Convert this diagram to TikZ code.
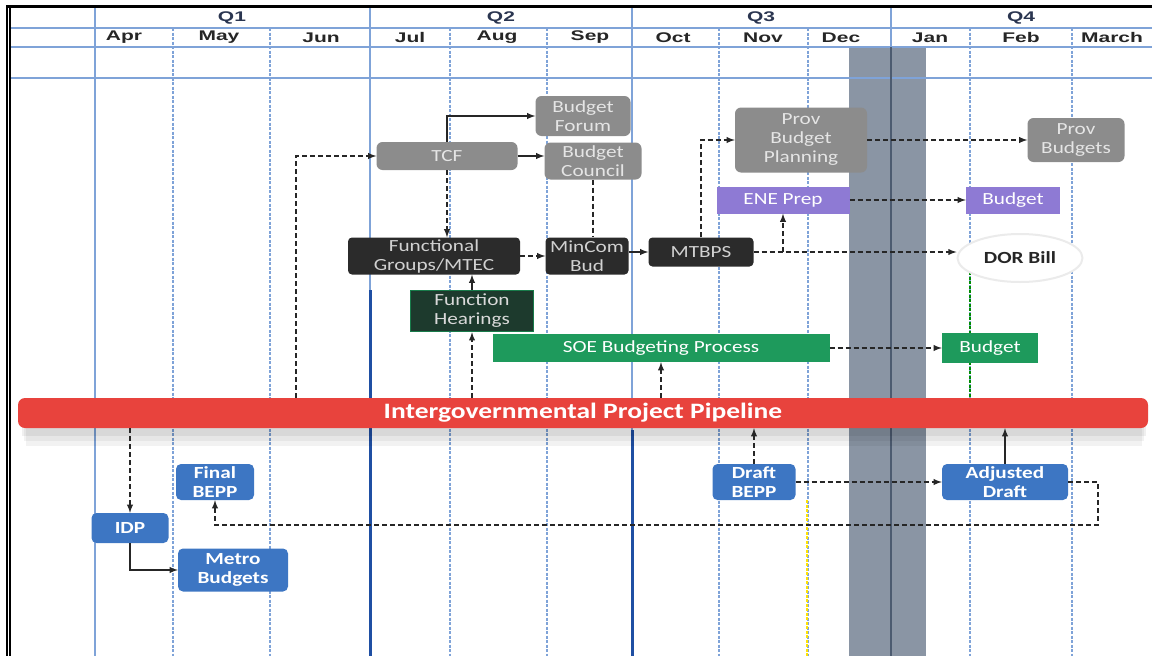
\documentclass[tikz,border=0pt]{standalone}
\usepackage{fontspec}
\setmainfont{Carlito}
\newfontfamily\boxfont[FakeStretch=1.25]{Carlito}
\newfontfamily\hdrfont[FakeStretch=1.5]{Liberation Sans}
\usetikzlibrary{shapes.geometric}

\definecolor{gridblue}{HTML}{7FA3D8}
\definecolor{darkblue}{HTML}{1F4FA3}
\definecolor{bandgray}{HTML}{8A95A4}
\definecolor{bandline}{HTML}{4C5B70}
\definecolor{boxgray}{HTML}{8C8C8C}
\definecolor{boxblack}{HTML}{2B2B2B}
\definecolor{hearfill}{HTML}{1D3A2D}
\definecolor{soegreen}{HTML}{1E9A5C}
\definecolor{eneviolet}{HTML}{8E7AD4}
\definecolor{bepblue}{HTML}{3D76C3}
\definecolor{pipered}{HTML}{E8433D}
\definecolor{hdrtext}{HTML}{2A3550}

\begin{document}
\begin{tikzpicture}[x=1pt,y=-1pt,
    box/.style={inner sep=0pt,align=center,font=\boxfont\fontsize{17}{19}\selectfont},
    grybox/.style={box,fill=boxgray,text=white!90!black,rounded corners=6pt},
    blkbox/.style={box,fill=boxblack,text=white!82!black,rounded corners=4pt},
    grnbox/.style={box,fill=soegreen,text=white},
    vltbox/.style={box,fill=eneviolet,text=white},
    bepbox/.style={box,fill=bepblue,text=white,rounded corners=5pt,font=\boxfont\bfseries\fontsize{17}{19}\selectfont},
    month/.style={text=black!85,font=\hdrfont\bfseries\fontsize{14}{16}\selectfont},
    quarter/.style={text=hdrtext,font=\hdrfont\bfseries\fontsize{14}{16}\selectfont},
    grid/.style={gridblue,line width=1.6pt},
    mgrid/.style={gridblue,line width=1.4pt,dash pattern=on 3pt off 1.5pt},
    flow/.style={line width=1.8pt,black!85,-latex},
    dflow/.style={flow,dash pattern=on 5pt off 3pt}]
        \useasboundingbox (0,0) rectangle (1152,656);
        % vacation band
        \fill [bandgray] (849,47) rectangle (926,656);

        % header lines
        \draw [grid] (10,28) -- (1152,28);
        \draw [grid] (10,47) -- (1152,47);
        \draw [grid] (10,78) -- (1152,78);
        % quarter lines
        \draw [grid] (95,8) -- (95,656);
        \draw [grid] (370,8) -- (370,656);
        \draw [grid] (632,8) -- (632,656);
        \draw [grid] (891,8) -- (891,47);
        \draw [bandline,line width=2pt] (891,47) -- (891,656);
        \draw [darkblue,line width=3pt] (370,290) -- (370,656);
        \draw [darkblue,line width=3pt] (632,430) -- (632,656);
        % month lines
        \draw [mgrid] (173,28) -- (173,656);
        \draw [mgrid] (270,28) -- (270,656);
        \draw [mgrid] (450,28) -- (450,656);
        \draw [mgrid] (547,28) -- (547,656);
        \draw [mgrid] (719,28) -- (719,656);
        \draw [mgrid] (808,28) -- (808,656);
        \draw [mgrid] (970,28) -- (970,656);
        \draw [mgrid] (1072,28) -- (1072,656);
        \draw [mgrid,yellow!85!orange,line width=2pt] (807,500) -- (807,656);
        \draw [mgrid,green!55!black] (970,272) -- (970,398);

        % frame
        \draw [black,line width=3pt] (7,6) -- (1152,6);
        \draw [black,line width=1.2pt] (7,5) -- (7,656);
        \draw [black,line width=1.2pt] (10,8) -- (10,656);

        % quarters and months
        \node [quarter] (q1) at (232,18) {Q1};
        \node [quarter] (q2) at (501,18) {Q2};
        \node [quarter] (q3) at (761,18) {Q3};
        \node [quarter] (q4) at (1021,18) {Q4};
        \node [month] (apr) at (124,37.5) {Apr};
        \node [month] (may) at (219,37.5) {May};
        \node [month] (jun) at (321,37.5) {Jun};
        \node [month] (jul) at (410,37.5) {Jul};
        \node [month] (aug) at (497,37.5) {Aug};
        \node [month] (sep) at (590,37.5) {Sep};
        \node [month] (oct) at (673,37.5) {Oct};
        \node [month] (nov) at (763,37.5) {Nov};
        \node [month] (dec) at (841,37.5) {Dec};
        \node [month] (jan) at (930,37.5) {Jan};
        \node [month] (feb) at (1021,37.5) {Feb};
        \node [month] (mar) at (1112,37.5) {March};

        % national budget boxes
        \node [grybox,minimum width=95,minimum height=40] (forum) at (583,116) {Budget\\Forum};
        \node [grybox,minimum width=141,minimum height=28] (tcf) at (447,156) {TCF};
        \node [grybox,minimum width=97,minimum height=37] (council) at (593,161) {Budget\\Council};
        \node [blkbox,minimum width=172,minimum height=37] (fgm) at (434,256) {Functional\\Groups/MTEC};
        \node [blkbox,minimum width=83,minimum height=37] (mincom) at (587,256) {MinCom\\Bud};
        \node [blkbox,minimum width=105,minimum height=29] (mtbps) at (701,252) {MTBPS};
        \node [box,fill=hearfill,draw=soegreen!80!black,line width=1.5pt,text=white!85!black,
               minimum width=123,minimum height=41] (hear) at (472,311) {Function\\Hearings};
        \node [grnbox,minimum width=337,minimum height=28] (soe) at (661,348) {SOE Budgeting Process};
        \node [grybox,minimum width=132,minimum height=65] (pbp) at (801,140) {Prov\\Budget\\Planning};
        \node [vltbox,minimum width=133,minimum height=27] (ene) at (783,200) {ENE Prep};
        \node [grybox,minimum width=97,minimum height=44] (provb) at (1076,140) {Prov\\Budgets};
        \node [vltbox,minimum width=94,minimum height=27] (budp) at (1013,200) {Budget};
        \node [ellipse,fill=white,draw=black!8,line width=2pt,inner sep=0pt,
               minimum width=125,minimum height=48,text=black!85,
               font=\boxfont\bfseries\fontsize{17}{19}\selectfont] (dor) at (1020,258) {DOR Bill};
        \node [grnbox,minimum width=96,minimum height=30] (budg) at (990,348) {Budget};

        % pipeline bar with soft shadow
        \fill [black,opacity=0.05] (26,420) rectangle (1142,446);
        \fill [black,opacity=0.05] (24,420) rectangle (1144,441);
        \fill [black,opacity=0.06] (22,420) rectangle (1146,436);
        \node [box,fill=pipered,text=white,rounded corners=7pt,minimum width=1130,minimum height=30,
               font=\boxfont\bfseries\fontsize{22}{24}\selectfont] (pipe) at (583,413) {Intergovernmental Project Pipeline};

        % municipal boxes
        \node [bepbox,minimum width=78,minimum height=36] (fbepp) at (215,482) {Final\\BEPP};
        \node [bepbox,minimum width=77,minimum height=30] (idp) at (130,528) {IDP};
        \node [bepbox,minimum width=110,minimum height=43] (metro) at (233,570) {Metro\\Budgets};
        \node [bepbox,minimum width=83,minimum height=36] (dbepp) at (754,482) {Draft\\BEPP};
        \node [bepbox,minimum width=126,minimum height=36] (adraft) at (1005,482) {Adjusted\\Draft};

        % bend points
        \coordinate (jT) at (296,0);
        \coordinate (jR) at (1098,525);

        % upper connectors
        \draw [dflow] (pipe.north -| jT) |- (tcf.west);
        \draw [flow] (tcf.north) |- (forum.west);
        \draw [flow] (tcf.east) -- (tcf.east -| council.west);
        \draw [dflow] (tcf.south) -- (tcf.south |- fgm.north);
        \draw [dflow,-] (council.south) -- (council.south |- mincom.north);
        \draw [dflow] (fgm.east) -- (mincom.west);
        \draw [flow] (mincom.east |- mtbps.west) -- (mtbps.west);
        \draw [flow] (hear.north) -- (hear.north |- fgm.south);
        \draw [dflow] (pipe.north -| hear.south) -- (hear.south);
        \draw [dflow] (pipe.north -| soe.south) -- (soe.south);
        \draw [dflow] (mtbps.north) |- (pbp.west);
        \draw [dflow] (mtbps.east) -- (mtbps.east -| dor.west);
        \draw [dflow] (mtbps.east -| ene.south) -- (ene.south);
        \draw [dflow] (pbp.east) -- (provb.west);
        \draw [dflow] (ene.east) -- (budp.west);
        \draw [dflow] (soe.east) -- (budg.west);

        % lower connectors
        \draw [dflow] (pipe.south -| idp.north) -- (idp.north);
        \draw [flow] (idp.south) |- (metro.west);
        \draw [dflow] (dbepp.north) -- (dbepp.north |- pipe.south);
        \draw [dflow] (dbepp.east) -- (adraft.west);
        \draw [flow] (adraft.north) -- (adraft.north |- pipe.south);
        \draw [dflow] (adraft.east) -| (jR) -| (fbepp.south);
    \end{tikzpicture}
\end{document}
